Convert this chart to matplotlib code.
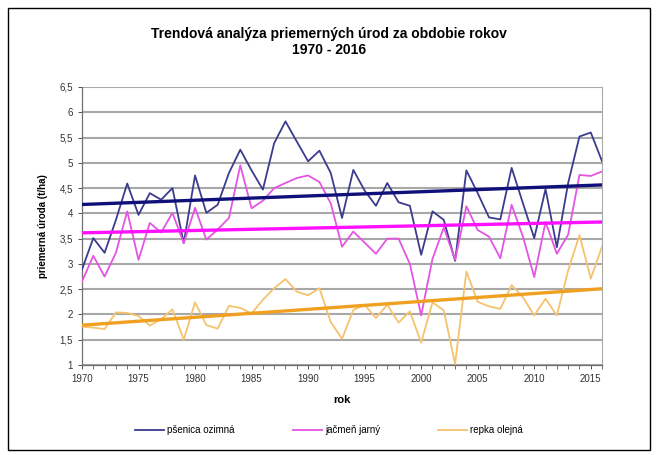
import matplotlib.pyplot as plt
import numpy as np
from matplotlib.patches import Rectangle

plt.rcParams['font.family'] = ['Liberation Sans', 'DejaVu Sans']

roky = list(range(1970, 2017))

psenica = [2.89, 3.51, 3.22, 3.87, 4.59, 3.97, 4.40, 4.27, 4.50, 3.41,
           4.75, 4.01, 4.17, 4.80, 5.26, 4.85, 4.47, 5.39, 5.82, 5.42,
           5.03, 5.24, 4.80, 3.91, 4.86, 4.45, 4.15, 4.60, 4.22, 4.15,
           3.18, 4.04, 3.87, 3.06, 4.85, 4.40, 3.92, 3.88, 4.90, 4.20,
           3.51, 4.48, 3.33, 4.60, 5.52, 5.60, 5.03]
jacmen = [2.65, 3.16, 2.75, 3.22, 4.04, 3.08, 3.81, 3.62, 4.01, 3.41,
          4.11, 3.48, 3.68, 3.91, 4.95, 4.10, 4.25, 4.50, 4.60, 4.70,
          4.75, 4.62, 4.20, 3.34, 3.64, 3.42, 3.20, 3.50, 3.50, 3.00,
          1.98, 3.10, 3.72, 3.08, 4.14, 3.67, 3.54, 3.11, 4.17, 3.54,
          2.74, 3.83, 3.20, 3.58, 4.76, 4.74, 4.83]
repka = [1.76, 1.74, 1.71, 2.04, 2.03, 1.97, 1.78, 1.91, 2.10, 1.50,
         2.24, 1.79, 1.72, 2.17, 2.13, 2.02, 2.29, 2.52, 2.70, 2.45,
         2.38, 2.52, 1.85, 1.52, 2.09, 2.19, 1.93, 2.19, 1.84, 2.06,
         1.44, 2.24, 2.08, 1.02, 2.85, 2.25, 2.16, 2.11, 2.58, 2.34,
         1.98, 2.31, 1.98, 2.87, 3.57, 2.71, 3.34]

nazvy = ['pšenica ozimná', 'jačmeň jarný', 'repka olejná']
farby = ['#3c3c8e', '#e455e4', '#f5c26e']
farby_trend = ['#10107a', '#ff10ff', '#f0a020']

fig = plt.figure(figsize=(6.58, 4.55), dpi=100)
ax = fig.add_axes([0.1246, 0.1978, 0.7904, 0.611])

x = np.array(roky)
for data, nazov, c, ct in zip([psenica, jacmen, repka], nazvy, farby, farby_trend):
    ax.plot(x, data, color=c, lw=1.3, label=nazov, zorder=3)
    k, q = np.polyfit(x, data, 1)
    ax.plot(x, k * x + q, color=ct, lw=2.4, zorder=4)

ax.set_xlim(1970, 2016)
ax.set_ylim(1, 6.5)
ax.set_yticks(np.arange(1, 6.51, 0.5))
ax.set_yticklabels([('%g' % v).replace('.', ',') for v in np.arange(1, 6.51, 0.5)])
ax.set_xticks(range(1970, 2016, 5))
ax.set_xticks(roky, minor=True)
ax.tick_params(axis='both', labelsize=7, colors='#333333', length=3, width=0.6)
ax.tick_params(axis='x', which='minor', length=3, width=0.6, color='#555555')
ax.tick_params(axis='y', length=3)
ax.grid(axis='y', color='#a8a8a8', lw=1.5, zorder=0)

for s in ['left', 'bottom']:
    ax.spines[s].set_color('#707070')
    ax.spines[s].set_linewidth(0.9)
ax.spines['right'].set_color('#a8a8a8')
ax.spines['top'].set_visible(False)

ax.set_xlabel('rok', fontsize=8, fontweight='bold', labelpad=8)
ax.set_ylabel('priemerná úroda (t/ha)', fontsize=7, fontweight='bold', labelpad=8)
fig.suptitle('Trendová analýza priemerných úrod za obdobie rokov\n1970 - 2016',
             fontsize=10, fontweight='bold', y=0.94)

fig.legend(loc='center', bbox_to_anchor=(0.5, 0.055), ncol=3, frameon=False,
           fontsize=7, columnspacing=6, handlelength=3, handletextpad=0.3)

fig.patches.append(Rectangle((8 / 658, 5 / 455), 642 / 658, 442 / 455,
                             transform=fig.transFigure, fill=False,
                             edgecolor='black', lw=1))

fig.savefig('out.png', dpi=100)
